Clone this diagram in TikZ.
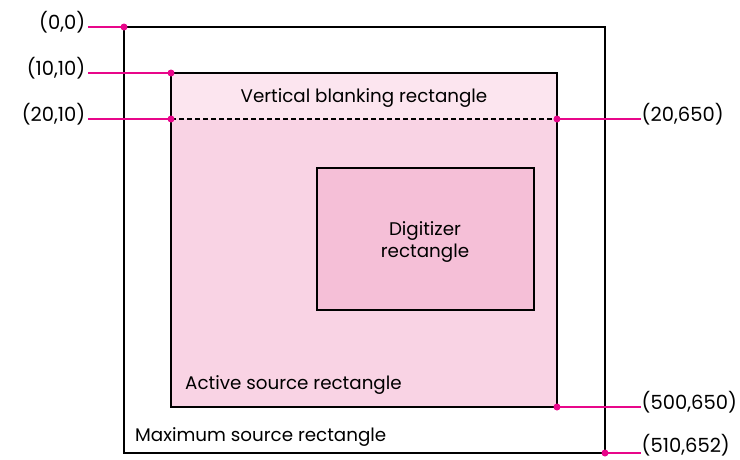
\documentclass[tikz,border=0pt]{standalone}
\usepackage{fontspec}
\setmainfont{Poppins}[Numbers=Monospaced]
\definecolor{mag}{HTML}{E8068A}
\definecolor{pinkA}{HTML}{FCE5EF}
\definecolor{pinkB}{HTML}{F9D3E4}
\definecolor{pinkC}{HTML}{F5BFD7}
\begin{document}
\begin{tikzpicture}[x=1pt,y=-1pt,
  box/.style={draw=black,line width=1.6pt},
  lead/.style={draw=mag,line width=1.6pt},
  dot/.style={circle,fill=mag,inner sep=0pt,minimum size=7pt},
  lbl/.style={font=\fontsize{19.5}{22}\selectfont,inner sep=0.5pt},
  txt/.style={font=\fontsize{18.3}{22}\selectfont,inner sep=0pt}]
\useasboundingbox (0,0) rectangle (740,459);
% regions
\fill[pinkA] (171,73) rectangle (557,119);
\fill[pinkB] (171,119) rectangle (557,407);
\draw[box] (124,27) rectangle (605,453);
\draw[box] (171,73) rectangle (557,407);
\draw[box,fill=pinkC] (317,168) rectangle (534,310);
\coordinate (dl) at (171,119);
\coordinate (dr) at (557,119);
\draw[line width=1.6pt,dash pattern=on 5pt off 3pt] (dl) -- (dr);
% texts
\node[txt] (vb) at (364,98) {Vertical blanking rectangle};
\node[txt,align=center] (dg) at (425,242) {Digitizer\\rectangle};
\node[txt,anchor=west] (as) at (185,385) {Active source rectangle};
\node[txt,anchor=west] (ms) at (135,437) {Maximum source rectangle};
% dots
\node[dot] (p00) at (124,27) {};
\node[dot] (p1010) at (171,73) {};
\node[dot] (p2010) at (171,119) {};
\node[dot] (p20650) at (557,119) {};
\node[dot] (p500) at (557,407) {};
\node[dot] (p510) at (605,453) {};
% labels
\node[lbl,anchor=east] (l00) at (86,22) {(0,0)};
\node[lbl,anchor=east] (l1010) at (86,68) {(10,10)};
\node[lbl,anchor=east] (l2010) at (86,114) {(20,10)};
\node[lbl,anchor=west] (l20650) at (641,114) {(20,650)};
\node[lbl,anchor=west] (l500) at (641,402) {(500,650)};
\node[lbl,anchor=west] (l510) at (641,445) {(510,652)};
\draw[lead] (88,27) -- (p00.center);
\draw[lead] (88,73) -- (p1010.center);
\draw[lead] (88,119) -- (p2010.center);
\draw[lead] (p20650.center) -- (641,119);
\draw[lead] (p500.center) -- (641,407);
\draw[lead] (p510.center) -- (641,453);
\end{tikzpicture}
\end{document}
